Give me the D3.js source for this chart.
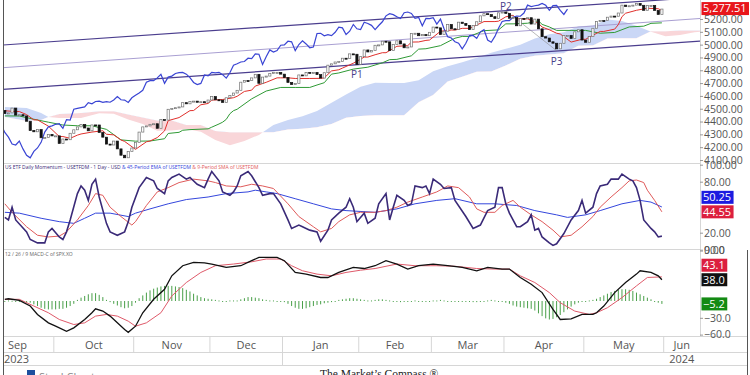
<!DOCTYPE html>
<html>
<head>
<meta charset="utf-8">
<script src="https://cdn.jsdelivr.net/npm/d3@7"></script>
<style>
  body { margin: 0; background: #fff; }
  svg { display: block; font-family: "Open Sans", sans-serif; }
</style>
</head>
<body>
<svg id="chart" width="750" height="375"></svg>
<script>
// ---- data (trading-day index 0 = 12 Sep 2023, 181 = 31 May 2024) ----
const prevClose = 4487.16;
const closes = [
  4461.90,4467.44,4505.10,4450.32,4453.53,4443.95,4402.20,4330.00,4320.06,4337.44,
  4273.53,4274.51,4299.70,4288.05,4288.39,4229.45,4263.75,4258.19,4308.50,4335.66,
  4358.24,4376.95,4349.61,4327.78,4373.63,4373.20,4314.60,4278.00,4224.16,4217.04,
  4247.68,4186.77,4137.23,4117.37,4166.82,4193.80,4237.86,4317.78,4358.34,4365.98,
  4378.38,4382.78,4347.35,4415.24,4411.55,4495.70,4502.88,4508.24,4514.02,4547.38,
  4538.19,4556.62,4559.34,4550.43,4554.89,4550.58,4567.80,4594.63,4569.78,4567.18,
  4549.34,4585.59,4604.37,4622.44,4643.70,4707.09,4719.55,4719.19,4740.56,4768.37,
  4698.35,4746.75,4754.63,4774.75,4781.58,4783.35,4769.83,4742.83,4704.81,4688.68,
  4697.24,4763.54,4756.50,4783.45,4780.24,4783.83,4765.98,4739.21,4780.94,4839.81,
  4850.43,4864.60,4868.55,4894.16,4890.97,4927.93,4924.97,4845.65,4906.19,4958.61,
  4942.81,4954.23,4995.06,4997.91,5026.61,5021.84,4953.17,5000.62,5029.73,5005.57,
  4975.51,4981.80,5087.03,5088.80,5069.53,5078.18,5069.76,5096.27,5137.08,5130.95,
  5078.65,5104.76,5157.36,5123.69,5117.94,5175.27,5165.31,5150.48,5117.09,5149.42,
  5178.51,5224.62,5241.53,5234.18,5218.19,5203.58,5248.49,5254.35,5243.77,5205.81,
  5211.49,5147.21,5204.34,5202.39,5209.91,5160.64,5199.06,5123.41,5061.82,5051.41,
  5022.21,5011.12,4967.23,5010.60,5070.55,5071.63,5048.42,5099.96,5116.17,5035.69,
  5018.39,5064.20,5127.79,5180.74,5187.70,5187.67,5214.08,5222.68,5221.42,5246.68,
  5308.15,5297.10,5303.27,5308.13,5321.41,5307.01,5267.84,5304.72,5306.04,5266.95,
  5235.48,5277.51
];
const lastPrice = 5277.51;
const chikouShift = 26;

// conversion line (red) and base line (green)
const tenkanIdx = [0,3,4,6,8,9,12,15,16,18,20,21,24,27,28,30,32,33,36,39,40,42,44,45,48,51,52,54,56,57,60,63,64,66,68,69,72,75,76,78,80,81,84,87,88,90,92,93,96,99,100,102,104,105,108,111,112,114,116,117,120,123,124,126,128,129,132,135,136,138,140,141,144,147,148,150,152,153,156,159,160,162,164,165,168,169,170,171,174,177,180,181];
const tenkan = [4484,4478,4478,4454,4413,4413,4364,4283,4283,4269,4294,4303,4318,4328,4301,4296,4256,4245,4183,4242,4248,4275,4327,4407,4431,4485,4486,4531,4541,4567,4572,4586,4597,4635,4645,4677,4706,4741,4741,4741,4736,4736,4736,4737,4741,4795,4804,4817,4855,4903,4903,4921,4937,4937,4987,4992,5020,5021,5033,5036,5104,5114,5114,5127,5127,5140,5180,5180,5183,5217,5229,5201,5201,5167,5137,5116,5089,5083,5020,5042,5042,5073,5103,5103,5121,5156,5218,5245,5268,5284,5280,5266];
const kijunIdx = [0,4,8,12,16,20,24,28,32,36,40,44,45,48,49,51,56,57,59,60,61,62,63,64,68,72,76,80,84,86,88,90,92,96,100,104,106,108,112,114,116,120,124,126,128,132,136,138,140,144,146,147,148,150,152,156,160,164,168,172,176,178,181];
const kijun = [4444,4443,4418,4395,4373,4367,4367,4339,4257,4247,4248,4266,4307,4316,4332,4337,4343,4356,4381,4395,4417,4461,4485,4496,4577,4638,4666,4666,4666,4685,4703,4770,4779,4809,4824,4858,4883,4885,4913,4965,4968,4992,5050,5064,5064,5109,5115,5162,5162,5167,5180,5186,5158,5138,5111,5111,5111,5089,5095,5138,5144,5166,5170];

// cloud (already shifted forward)
const cloudIdx = [0,6,10,12,15,21,26,30,34,38,42,46,50,54,58,62,66,70,74,78,82,86,90,94,98,102,106,110,114,118,122,126,130,134,138,142,146,150,154,158,162,166,170,174,178,182,186,190,192];
const spanA = [4513,4506,4467,4435,4428,4428,4464,4460,4415,4380,4328,4330,4342,4320,4256,4215,4248,4296,4373,4412,4442,4483,4546,4611,4672,4703,4701,4701,4722,4792,4832,4863,4897,4936,4967,5000,5048,5082,5096,5144,5149,5196,5184,5147,5100,5065,5076,5096,5103];
const spanB = [4435,4404,4412,4435,4459,4467,4480,4480,4455,4432,4409,4409,4373,4373,4327,4317,4317,4317,4316,4338,4343,4356,4381,4429,4443,4450,4450,4450,4551,4608,4712,4749,4788,4790,4837,4889,4913,4923,4932,4991,4994,5047,5050,5050,5104,5104,5111,5111,5111];

// channel lines (price at both ends of the plot)
const channelIdx = [-0.5, 191.5];
const channelUpper = [4997, 5369];
const channelMid = [4820, 5204];
const channelLower = [4651, 5028];

const pivotNames = ["P1", "P2", "P3"];
const pivotIdx = [97, 138, 152];
const pivotPrice = [4846, 5264, 4953];
const pivotAbove = [false, true, false];

// momentum panel
const momIdx = [0,1,2,3,6,7,9,11,12,13,15,16,17,18,20,21,22,23,24,25,26,28,29,31,33,34,35,37,39,41,42,44,45,46,48,50,51,53,55,56,57,59,60,62,63,64,65,67,68,70,71,73,74,76,78,79,81,82,84,86,87,89,90,92,94,95,96,97,99,100,102,103,105,106,107,108,110,111,112,113,115,116,117,118,120,121,123,124,127,129,131,133,135,136,137,138,139,141,142,144,145,146,147,148,150,151,152,154,156,158,159,160,162,163,164,166,167,169,170,172,173,174,175,176,178,179,180,181];
const momentum = [38,35,50,35,21,12,8,8,21,25,15,12,21,35,66,75,70,58,77,83,62,31,21,17,21,33,50,73,85,81,72,66,81,85,89,83,85,77,73,83,92,81,68,64,68,75,87,92,87,73,64,66,66,54,35,25,29,27,23,21,10,23,35,43,50,60,50,33,43,31,37,54,66,35,50,64,58,52,54,75,73,75,66,83,77,72,73,58,39,25,29,46,50,73,73,54,43,27,27,33,41,23,25,15,8,5,7,19,35,46,58,43,50,66,75,77,83,83,89,83,81,73,58,35,25,21,15,16];
const smaIdx = [0,2,6,9,12,15,17,20,23,25,27,29,32,35,36,39,42,45,48,52,56,58,61,65,68,71,74,78,81,85,87,90,92,95,98,102,105,108,111,115,119,122,125,128,130,132,135,137,140,142,145,148,151,153,156,159,162,164,167,170,172,174,176,177,179,181];
const sma9 = [54,44,27,17,15,16,21,35,52,66,64,50,39,29,33,52,68,73,79,83,81,79,75,74,77,75,72,54,39,27,21,25,33,41,44,44,46,50,56,62,68,75,73,62,48,44,44,52,58,50,41,33,23,15,17,27,39,50,62,73,81,82,79,70,58,44.55];
const emaIdx = [0,4,10,15,19,22,25,29,34,36,40,45,50,56,61,67,69,72,75,80,85,90,94,102,108,113,119,124,130,135,141,146,152,155,160,164,170,175,178,181];
const ema45 = [44,43,37,33,31,37,43,43,39,43,48,54,59,62,66,68,70,68,66,60,54,48,46,44,48,54,58,60,54,54,52,46,41,38,41,46,54,58,56,50.25];

// MACD panel
const macdIdx = [0,1,4,7,9,12,14,17,19,22,24,25,27,29,31,33,34,36,38,41,44,46,49,52,55,57,61,65,68,70,75,77,80,83,87,89,92,96,99,102,105,108,111,114,118,122,126,130,133,137,139,142,145,148,151,153,156,159,162,163,165,168,171,174,175,178,180,181];
const macd = [3,4,1,-9,-24,-39,-45,-54,-48,-33,-21,-14,-18,-27,-39,-51,-56,-45,-21,3,21,45,63,69,68,66,60,63,72,78,78,72,51,48,42,42,51,60,58,63,72,66,57,63,66,63,60,54,60,57,57,42,30,15,-15,-33,-32,-24,-24,-21,-9,15,33,48,54,51,45,38];
const sigIdx = [0,4,8,12,15,19,22,25,28,31,34,36,39,43,46,50,54,58,63,68,72,76,79,82,86,90,94,98,102,108,113,119,124,130,135,139,142,146,150,153,157,161,163,166,170,174,177,181];
const signal = [3,3,-9,-21,-33,-42,-39,-27,-24,-27,-36,-45,-39,-21,9,33,51,63,66,70,75,75,63,54,48,45,51,55,58,66,63,63,62,58,57,57,45,33,15,-3,-18,-24,-21,-12,6,27,42,43.1];
const macdHist = [
  0,1,0.5,0,-1,-1,-2,-3,-6,-9,
  -12,-14,-15,-15,-15,-14,-14,-12,-9,-5,
  2,6,9,12,14,14,11,7,2,-2,
  -5,-8,-11,-13,-12,-9,-3,5,10,15,
  19,22,24,26,27,27,27,26,25,23,
  20,17,13,10,7,5,4,3,2,1,
  0,0,1,1,1,3,5,7,7,6,
  5,3,2,1,1,0,-1,-2,-5,-9,
  -12,-14,-14,-13,-11,-9,-7,-6,-4,-3,
  -2,0,2,3,4,5,5,4,3,2,
  1,1,2,3,3,2,1,0,-1,-2,
  -1,0,0,1,0,0,0,0,1,1,
  2,1,0,0,0,0,-1,0,-1,-2,
  -2,-1,0,1,2,1,0,0,-3,-5,
  -8,-10,-11,-12,-13,-14,-17,-22,-27,-31,
  -33,-32,-29,-25,-20,-15,-10,-6,-3,-1,
  0,1,2,4,7,10,13,16,18,20,
  21,21,20,18,15,12,9,6,3,0,
  -3,-5.2
];

// axis labels (the ones hidden behind value boxes are left out)
const priceTicks = [4100,4200,4300,4400,4500,4600,4700,4800,4900,5000,5100,5200];
const momTicks = [0,20,80,100];
const macdTicks = [-60,-30,90];
const months = ["Sep","Oct","Nov","Dec","Jan","Feb","Mar","Apr","May","Jun"];
const monthStart = [-6,14,36,57,77,98,118,138,160,182,201];
const years = ["2023","2024"];

// ---- scales ----
const svg = d3.select("#chart");
const x = d3.scaleLinear().domain([-0.5, 191.5]).range([3, 700]);
const yP = d3.scaleLinear().domain([4100, 5200]).range([160, 19]);
const yM = d3.scaleLinear().domain([0, 100]).range([249.7, 164.7]);
const yD = d3.scaleLinear().domain([-60, 90]).range([334.6, 250.6]);

const zip = (a, b) => a.map((d, i) => [d, b[i]]);
const openOf = i => (i ? closes[i - 1] : prevClose);
const defs = svg.append("defs");
function clip(id, y0, h) {
  defs.append("clipPath").attr("id", id)
    .append("rect").attr("x", 3).attr("y", y0).attr("width", 697).attr("height", h);
}
clip("cp", 0, 163);
clip("cm", 163, 86.5);
clip("cd", 249.5, 86.5);

// ---- price panel ----
const gP = svg.append("g").attr("clip-path", "url(#cp)");

const cloud = cloudIdx.map((d, i) => ({ i: d, a: spanA[i], b: spanB[i] }));
defs.append("clipPath").attr("id", "aboveB").append("path")
  .attr("d", d3.area().x(d => x(d.i)).y0(0).y1(d => yP(d.b))(cloud));
defs.append("clipPath").attr("id", "belowB").append("path")
  .attr("d", d3.area().x(d => x(d.i)).y0(d => yP(d.b)).y1(170)(cloud));
const cloudArea = d3.area().x(d => x(d.i)).y0(d => yP(d.b)).y1(d => yP(d.a));
gP.append("g").attr("clip-path", "url(#aboveB)")
  .append("path").attr("d", cloudArea(cloud)).attr("fill", "#cad7f6");
gP.append("g").attr("clip-path", "url(#belowB)")
  .append("path").attr("d", cloudArea(cloud)).attr("fill", "#f9d6d9");

const lineP = d3.line().x(d => x(d[0])).y(d => yP(d[1]));
[[channelUpper, "#4b3e8e", 1.2], [channelMid, "#a99fd2", 1], [channelLower, "#4b3e8e", 1.2]]
  .forEach(([vals, col, w]) => {
    gP.append("path").attr("d", lineP(zip(channelIdx, vals)))
      .attr("fill", "none").attr("stroke", col).attr("stroke-width", w);
  });

gP.append("path").attr("d", lineP(zip(kijunIdx, kijun)))
  .attr("fill", "none").attr("stroke", "#2f9a35").attr("stroke-width", 1);
gP.append("path").attr("d", lineP(zip(tenkanIdx, tenkan)))
  .attr("fill", "none").attr("stroke", "#e0302c").attr("stroke-width", 1);

// lagging line = closes plotted 26 days back
gP.append("path")
  .attr("d", lineP(closes.map((c, i) => [i - chikouShift, c])))
  .attr("fill", "none").attr("stroke", "#3a45d4").attr("stroke-width", 1.2);

// P2 -> P3 line
gP.append("line")
  .attr("x1", x(pivotIdx[1])).attr("y1", yP(pivotPrice[1]))
  .attr("x2", x(pivotIdx[2])).attr("y2", yP(pivotPrice[2]))
  .attr("stroke", "#8a8a8a").attr("stroke-width", 0.6);

// candles (open taken as previous close)
gP.selectAll(".candle").data(closes).enter().append("rect")
  .attr("class", "candle")
  .attr("x", (d, i) => x(i) - 1.1)
  .attr("width", 2.2)
  .attr("y", (d, i) => yP(Math.max(d, openOf(i))))
  .attr("height", (d, i) => Math.max(1, Math.abs(yP(d) - yP(openOf(i)))))
  .attr("fill", (d, i) => d >= openOf(i) ? "#fff" : "#111")
  .attr("stroke", (d, i) => d >= openOf(i) ? "#707070" : "#111")
  .attr("stroke-width", 0.7);

pivotNames.forEach((p, k) => {
  svg.append("text").text(p)
    .attr("x", x(pivotIdx[k]))
    .attr("y", yP(pivotPrice[k]) + (pivotAbove[k] ? -0.5 : 14))
    .attr("text-anchor", "middle").attr("font-size", 10).attr("fill", "#4a3f8a");
});

// ---- momentum panel ----
const gM = svg.append("g").attr("clip-path", "url(#cm)");
const lineM = d3.line().x(d => x(d[0])).y(d => yM(d[1]));
gM.append("path").attr("d", lineM(zip(emaIdx, ema45)))
  .attr("fill", "none").attr("stroke", "#3446dc").attr("stroke-width", 1);
gM.append("path").attr("d", lineM(zip(smaIdx, sma9)))
  .attr("fill", "none").attr("stroke", "#df5a5a").attr("stroke-width", 1);
gM.append("path").attr("d", lineM(zip(momIdx, momentum)))
  .attr("fill", "none").attr("stroke", "#3a2a78").attr("stroke-width", 1.6);

const tM = svg.append("text").attr("x", 5).attr("y", 168.5).attr("font-size", 5);
tM.append("tspan").text("US ETF Daily Momentum - USETFDM - 1 Day - USD ").attr("fill", "#3a2a78");
tM.append("tspan").text("& 45-Period EMA of USETFDM ").attr("fill", "#3446dc");
tM.append("tspan").text("& 9-Period SMA of USETFDM").attr("fill", "#df5a5a");

// ---- MACD panel ----
const gD = svg.append("g").attr("clip-path", "url(#cd)");
gD.selectAll(".bar").data(macdHist).enter().append("rect")
  .attr("class", "bar")
  .attr("x", (d, i) => x(i) - 0.5)
  .attr("width", 1)
  .attr("y", d => Math.min(yD(d), yD(0)))
  .attr("height", d => Math.max(1, Math.abs(yD(d) - yD(0))))
  .attr("fill", "#4aa04a");
const lineD = d3.line().x(d => x(d[0])).y(d => yD(d[1]));
gD.append("path").attr("d", lineD(zip(sigIdx, signal)))
  .attr("fill", "none").attr("stroke", "#df5a6a").attr("stroke-width", 1);
gD.append("path").attr("d", lineD(zip(macdIdx, macd)))
  .attr("fill", "none").attr("stroke", "#111").attr("stroke-width", 1.3);
svg.append("text").attr("x", 5).attr("y", 255.5).attr("font-size", 5).attr("fill", "#666")
  .text("12 / 26 / 9 MACD-C of SPX.XO");

// ---- frame and separators ----
const frame = svg.append("g").attr("stroke", "#d6d6d6").attr("stroke-width", 1);
frame.append("line").attr("x1", 3).attr("x2", 700).attr("y1", 163.5).attr("y2", 163.5);
frame.append("line").attr("x1", 3).attr("x2", 700).attr("y1", 249.5).attr("y2", 249.5);
frame.append("line").attr("x1", 700.5).attr("x2", 700.5).attr("y1", 0).attr("y2", 336);
frame.append("line").attr("x1", 3).attr("x2", 747).attr("y1", 336.5).attr("y2", 336.5);
frame.append("line").attr("x1", 3).attr("x2", 747).attr("y1", 352.5).attr("y2", 352.5);
frame.append("line").attr("x1", 3).attr("x2", 747).attr("y1", 365.5).attr("y2", 365.5);
svg.append("line").attr("x1", 3.5).attr("x2", 3.5).attr("y1", 0).attr("y2", 375)
  .attr("stroke", "#555");
svg.append("line").attr("x1", 747.5).attr("x2", 747.5).attr("y1", 250).attr("y2", 375)
  .attr("stroke", "#555");

// ---- right axes ----
function rightAxis(scale, ticks, fmt) {
  svg.append("g").attr("transform", "translate(700,0)")
    .call(d3.axisRight(scale).tickValues(ticks).tickFormat(d3.format(fmt)).tickSize(3).tickPadding(1))
    .call(g => g.select(".domain").remove())
    .call(g => g.selectAll("line").attr("stroke", "#999"))
    .call(g => g.selectAll("text").attr("fill", "#555"))
    .attr("font-family", "Open Sans").attr("font-size", 10.5);
}
rightAxis(yP, priceTicks, ".2f");
rightAxis(yM, momTicks, ".2f");
rightAxis(yD, macdTicks, ".1f");

// last value boxes, pushed up when they collide
function valueBoxes(items) {
  items.sort((a, b) => b.y - a.y);
  items.forEach((d, k) => {
    if (k > 0 && d.y > items[k - 1].y - 14.5) d.y = items[k - 1].y - 14.5;
  });
  items.forEach(d => {
    const g = svg.append("g");
    const t = g.append("text").text(d.label).attr("x", 703).attr("y", d.y)
      .attr("dy", "0.35em").attr("font-size", 11).attr("fill", "#fff");
    const w = t.node().getComputedTextLength();
    g.insert("rect", "text").attr("x", 701.5).attr("y", d.y - 6.5)
      .attr("width", w + 4).attr("height", 13).attr("fill", d.fill);
  });
}
valueBoxes([{ y: yP(lastPrice) - 0.5, label: d3.format(",.2f")(lastPrice), fill: "#e8161b" }]);
valueBoxes([
  { y: yM(ema45[ema45.length - 1]), label: d3.format(".2f")(ema45[ema45.length - 1]), fill: "#1c1ce0" },
  { y: yM(sma9[sma9.length - 1]), label: d3.format(".2f")(sma9[sma9.length - 1]), fill: "#dc1f3e" }
]);
valueBoxes([
  { y: yD(signal[signal.length - 1]), label: d3.format(".1f")(signal[signal.length - 1]), fill: "#dc1f3e" },
  { y: yD(macd[macd.length - 1]), label: d3.format(".1f")(macd[macd.length - 1]), fill: "#111" },
  { y: yD(macdHist[macdHist.length - 1]), label: d3.format(".1f")(macdHist[macdHist.length - 1]), fill: "#138a13" }
]);

// ---- time axis ----
const axisG = svg.append("g").attr("font-size", 11).attr("fill", "#555");
monthStart.slice(1, 10).forEach(s => {
  svg.append("line").attr("x1", x(s - 0.5)).attr("x2", x(s - 0.5))
    .attr("y1", 336.5).attr("y2", 352.5).attr("stroke", "#d6d6d6");
});
months.forEach((m, k) => {
  const mid = (monthStart[k] + Math.min(monthStart[k + 1], 192)) / 2;
  axisG.append("text").text(m).attr("x", x(mid - 0.5)).attr("y", 348.5).attr("text-anchor", "middle");
});
svg.append("line").attr("x1", x(monthStart[4] - 0.5)).attr("x2", x(monthStart[4] - 0.5))
  .attr("y1", 352.5).attr("y2", 365.5).attr("stroke", "#d6d6d6");
axisG.append("text").text(years[0]).attr("x", 4).attr("y", 362.5);
axisG.append("text").text(years[1]).attr("x", x((monthStart[9] + 192) / 2 - 0.5))
  .attr("y", 362.5).attr("text-anchor", "middle");

// ---- footer ----
svg.append("rect").attr("x", 27).attr("y", 370).attr("width", 8).attr("height", 8).attr("fill", "#1d4f9e");
svg.append("text").text("StockCharts").attr("x", 39).attr("y", 381).attr("font-size", 11).attr("fill", "#888");
svg.append("text").text("The Market\u2019s Compass \u00ae").attr("x", 320).attr("y", 377.5)
  .attr("font-family", "Liberation Serif").attr("font-size", 11.5).attr("fill", "#222");
</script>
</body>
</html>
